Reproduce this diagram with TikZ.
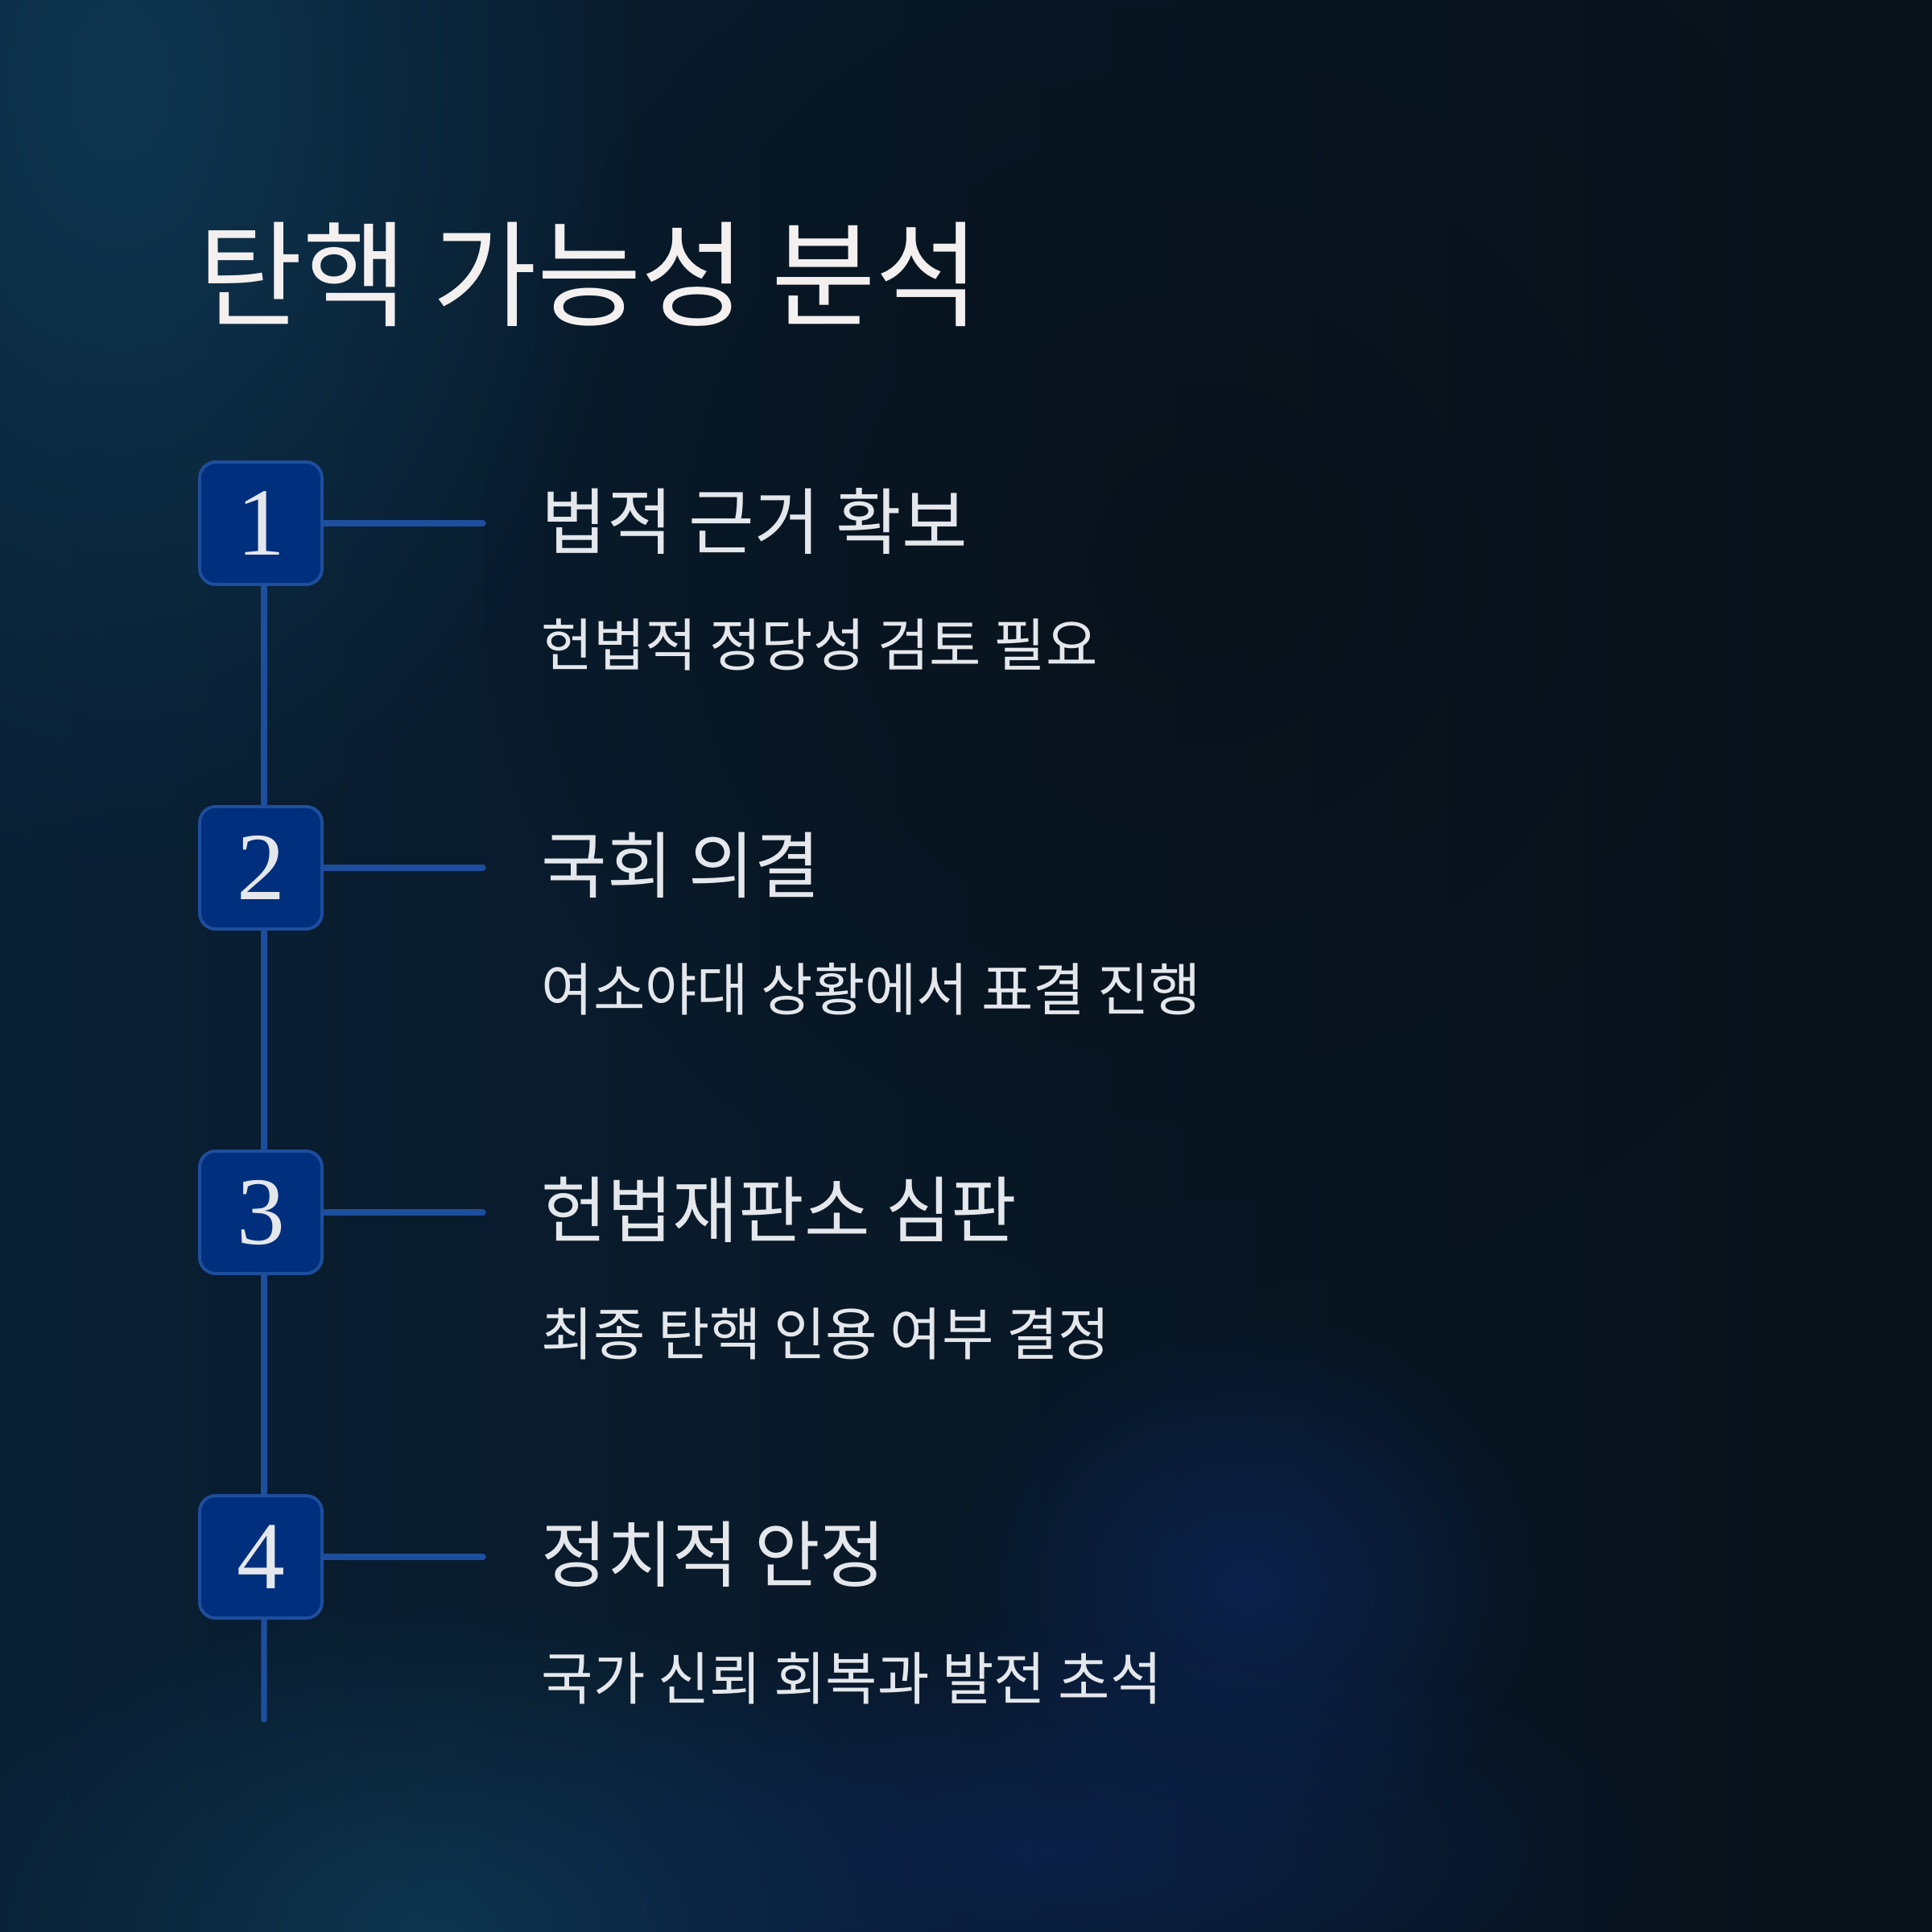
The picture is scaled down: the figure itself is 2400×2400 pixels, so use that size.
\documentclass[tikz,border=0pt]{standalone}
\usepackage{fontspec}
\newfontfamily\krfont[FakeStretch=0.985]{Noto Sans CJK KR}
\newfontfamily\numfont{Liberation Serif}
\usetikzlibrary{fadings}
\definecolor{bgdark}{RGB}{8,17,25}
\definecolor{bgleft}{RGB}{9,31,52}
\definecolor{glowteal}{RGB}{14,54,80}
\definecolor{glowblue}{RGB}{12,36,86}
\definecolor{boxfill}{RGB}{0,47,126}
\definecolor{boxedge}{RGB}{30,78,158}
\definecolor{txt}{RGB}{228,231,235}
\definecolor{titletxt}{RGB}{244,240,240}
\tikzfading[name=glow,inner color=transparent!0,outer color=transparent!100]

\begin{document}
\begin{tikzpicture}[x=0.01cm,y=-0.01cm,
 numbox/.style={draw=boxedge,line width=1.1pt,fill=boxfill,rounded corners=0.2cm,minimum size=1.52cm,inner sep=0pt,text=txt,font=\numfont\fontsize{34}{34}\selectfont},
 link/.style={boxedge,line width=2.1pt,line cap=round},
 head/.style={anchor=west,inner sep=0pt,text=txt,font=\krfont\fontsize{25.6}{30}\selectfont},
 sub/.style={anchor=west,inner sep=0pt,text=txt,font=\krfont\fontsize{20.2}{24}\selectfont}]
\useasboundingbox (0,0) rectangle (2400,2400);
% background
\begin{scope}
\clip (0,0) rectangle (2400,2400);
\shade[left color=bgleft,right color=bgdark] (0,0) rectangle (2400,2400);
\fill[glowteal,path fading=glow] (150,100) ellipse (650 and 1000);
\fill[glowteal,path fading=glow] (550,2400) ellipse (650 and 420);
\fill[glowblue,path fading=glow,opacity=0.8] (1550,1970) ellipse (380 and 340);
\fill[glowblue,path fading=glow,opacity=0.7] (1300,2300) ellipse (800 and 300);
\fill[bgdark,path fading=glow,opacity=0.8] (1500,700) ellipse (900 and 900);
\end{scope}

\node[anchor=west,inner sep=0pt,text=titletxt,font=\krfont\fontsize{40.7}{48}\selectfont] (title) at (246,341) {탄핵 가능성 분석};

\foreach \i/\num/\hd/\sb in {0/1/법적 근거 확보/헌법적 정당성 검토 필요,
  1/2/국회 의결/여소야대 상황에서 표결 진행,
  2/3/헌법재판소 심판/최종 탄핵 인용 여부 결정,
  3/4/정치적 안정/국가 신뢰 회복과 발전 초석}{
  \node[numbox] (n\num) at (324,{650+428*\i}) {\num};
  \coordinate (e\num) at (600,{650+428*\i});
  \node[head] (h\num) at (672,{647+428*\i}) {\hd};
  \node[sub] (s\num) at (672,{801+428*\i}) {\sb};
  \draw[link] (n\num.east) -- (e\num);
}
\coordinate (tail) at (328,2136);
\foreach \a/\b in {1/2,2/3,3/4}
  \draw[link] ([xshift=0.04cm]n\a.south) -- ([xshift=0.04cm]n\b.north);
\draw[link] ([xshift=0.04cm]n4.south) -- (tail);
\end{tikzpicture}
\end{document}
